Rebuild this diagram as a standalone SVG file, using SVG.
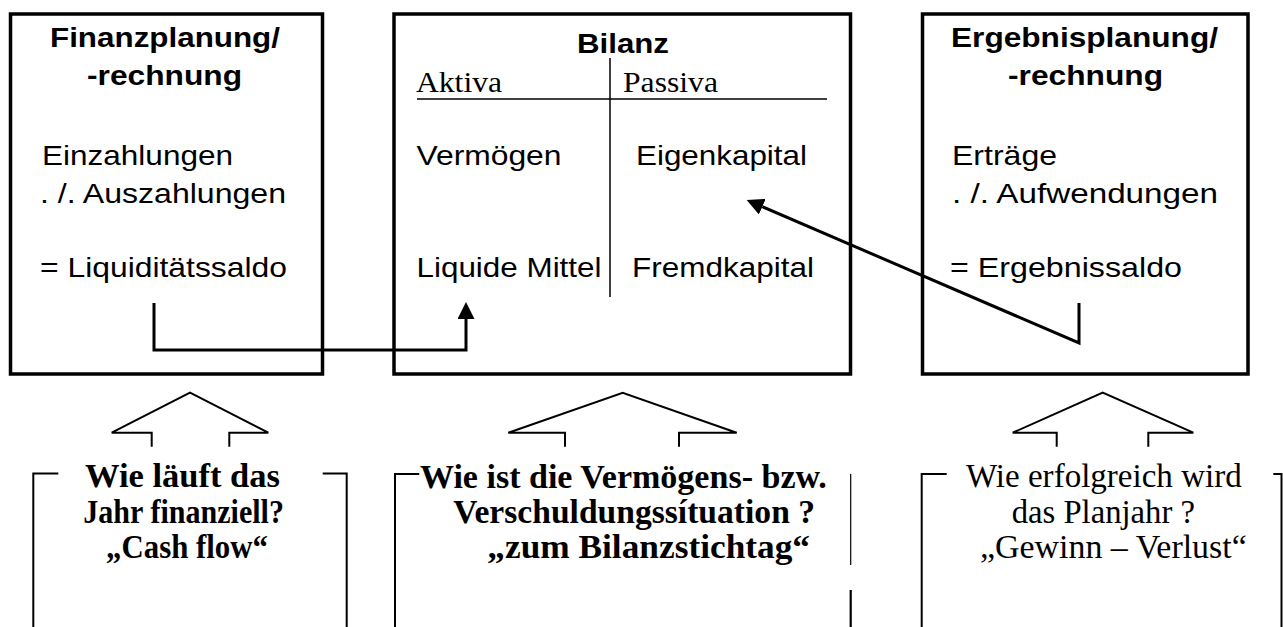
<svg xmlns="http://www.w3.org/2000/svg" width="1283" height="627" viewBox="0 0 1283 627">
<style>
.box{fill:none;stroke:#000;stroke-width:3.5}
.thin{fill:none;stroke:#000;stroke-width:1.5}
.blk{fill:none;stroke:#000;stroke-width:2;stroke-linejoin:miter}
.conn{fill:none;stroke:#000;stroke-width:3}
.a{font-family:"Liberation Sans",Arial,sans-serif;font-size:28.5px;fill:#000}
.ab{font-family:"Liberation Sans",Arial,sans-serif;font-size:28.5px;font-weight:bold;fill:#000}
.t{font-family:"Liberation Serif","Times New Roman",serif;font-size:29px;fill:#000}
.tb{font-family:"Liberation Serif","Times New Roman",serif;font-size:34px;font-weight:bold;fill:#000}
.tr{font-family:"Liberation Serif","Times New Roman",serif;font-size:33px;fill:#000}
</style>
<defs>
<marker id="arr" viewBox="0 0 10 10" refX="0" refY="5" markerWidth="17" markerHeight="17" markerUnits="userSpaceOnUse" orient="auto">
<path d="M0,0 L10,5 L0,10 z" fill="#000"/>
</marker>
</defs>

<g id="finanz">
<rect class="box" x="10.5" y="14" width="312" height="360"/>
<text class="ab" x="50" y="47" textLength="230" lengthAdjust="spacingAndGlyphs">Finanzplanung/</text>
<text class="ab" x="87" y="85" textLength="155" lengthAdjust="spacingAndGlyphs">-rechnung</text>
<text class="a" x="42" y="165" textLength="191" lengthAdjust="spacingAndGlyphs">Einzahlungen</text>
<text class="a" x="40" y="203" textLength="246" lengthAdjust="spacingAndGlyphs">. /. Auszahlungen</text>
<text class="a" x="40" y="277" textLength="247" lengthAdjust="spacingAndGlyphs">= Liquiditätssaldo</text>
</g>

<g id="bilanz">
<rect class="box" x="394" y="14" width="456.5" height="360"/>
<text class="ab" x="577" y="53" textLength="92" lengthAdjust="spacingAndGlyphs">Bilanz</text>
<line class="thin" x1="610" y1="58" x2="610" y2="297"/>
<line class="thin" x1="417" y1="99" x2="827" y2="99"/>
<text class="t" x="416" y="92" textLength="86" lengthAdjust="spacingAndGlyphs">Aktiva</text>
<text class="t" x="623" y="92" textLength="95" lengthAdjust="spacingAndGlyphs">Passiva</text>
<text class="a" x="416.5" y="165" textLength="145" lengthAdjust="spacingAndGlyphs">Vermögen</text>
<text class="a" x="636" y="165" textLength="171" lengthAdjust="spacingAndGlyphs">Eigenkapital</text>
<text class="a" x="416.5" y="277" textLength="185" lengthAdjust="spacingAndGlyphs">Liquide Mittel</text>
<text class="a" x="632" y="277" textLength="182" lengthAdjust="spacingAndGlyphs">Fremdkapital</text>
</g>

<g id="ergebnis">
<rect class="box" x="922.5" y="14" width="325.5" height="360"/>
<text class="ab" x="951" y="47" textLength="267" lengthAdjust="spacingAndGlyphs">Ergebnisplanung/</text>
<text class="ab" x="1008" y="85" textLength="155" lengthAdjust="spacingAndGlyphs">-rechnung</text>
<text class="a" x="952" y="165" textLength="105" lengthAdjust="spacingAndGlyphs">Erträge</text>
<text class="a" x="952" y="203" textLength="266" lengthAdjust="spacingAndGlyphs">. /.  Aufwendungen</text>
<text class="a" x="950" y="277" textLength="232" lengthAdjust="spacingAndGlyphs">= Ergebnissaldo</text>
</g>

<g id="connectors">
<path class="conn" d="M154,303 V350 H466 V319" marker-end="url(#arr)"/>
<path class="conn" d="M1079,303 V343 L762.3,206.7" marker-end="url(#arr)"/>
</g>

<g id="frage-finanz">
<path class="blk" d="M151.7,446.7 V432.7 H111.7 L190,392.7 L268.3,432.7 H229.3 V446.7"/>
<path class="blk" d="M58.3,473.5 H33.3 V627"/>
<path class="blk" d="M322.7,473.5 H346.7 V627"/>
<text class="tb" x="85" y="487" textLength="195" lengthAdjust="spacingAndGlyphs">Wie läuft das</text>
<text class="tb" x="83.3" y="523" textLength="200.7" lengthAdjust="spacingAndGlyphs">Jahr finanziell?</text>
<text class="tb" x="106" y="558" textLength="162" lengthAdjust="spacingAndGlyphs">„Cash flow“</text>
</g>

<g id="frage-bilanz">
<path class="blk" d="M565,446.7 V432.7 H508.3 L622.7,392.7 L736.7,432.7 H679 V446.7"/>
<path class="blk" d="M419.3,474 H395 V627"/>
<line x1="850.7" y1="474" x2="850.7" y2="565" stroke="#000" stroke-width="1.2"/>
<line x1="850.7" y1="590" x2="850.7" y2="627" stroke="#000" stroke-width="2.2"/>
<text class="tb" x="420" y="488" textLength="406.7" lengthAdjust="spacingAndGlyphs">Wie ist die Vermögens- bzw.</text>
<text class="tb" x="453.3" y="523" textLength="361.7" lengthAdjust="spacingAndGlyphs">Verschuldungssítuation ?</text>
<text class="tb" x="487.3" y="558" textLength="322.7" lengthAdjust="spacingAndGlyphs">„zum Bilanzstichtag“</text>
</g>

<g id="frage-ergebnis">
<path class="blk" d="M1056.7,446.7 V432.7 H1012.7 L1102.7,392.7 L1193.3,432.7 H1148.3 V446.7"/>
<path class="blk" d="M946.7,474 H921.7 V627"/>
<path class="blk" d="M1273.3,474 H1281.5 V627"/>
<text class="tr" x="966" y="487" textLength="275.7" lengthAdjust="spacingAndGlyphs">Wie erfolgreich wird</text>
<text class="tr" x="1011.7" y="523" textLength="183.3" lengthAdjust="spacingAndGlyphs">das Planjahr ?</text>
<text class="tr" x="980" y="558" textLength="266.7" lengthAdjust="spacingAndGlyphs">„Gewinn – Verlust“</text>
</g>
</svg>
